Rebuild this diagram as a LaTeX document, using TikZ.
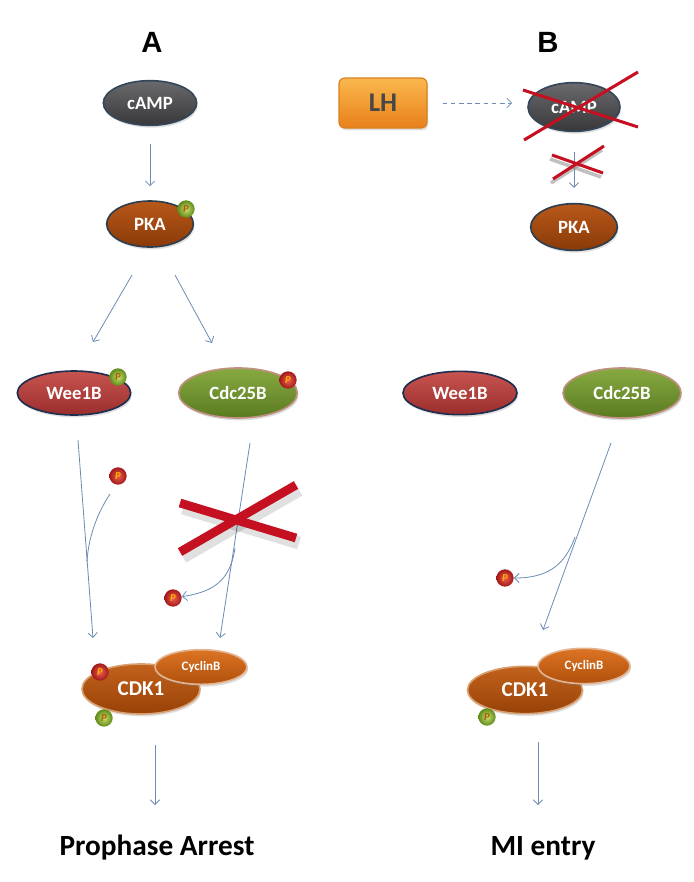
\documentclass[tikz,border=0pt]{standalone}
\usepackage{fontspec}
\setmainfont{Carlito}
\newfontfamily\arialb{Liberation Sans}
\usetikzlibrary{shapes.geometric,arrows.meta,shadows}
\definecolor{campT}{HTML}{6A6A6C}\definecolor{campB}{HTML}{38383A}\definecolor{campD}{HTML}{34465A}
\definecolor{pkaT}{HTML}{B8581A}\definecolor{pkaB}{HTML}{8A3A08}\definecolor{pkaD}{HTML}{2E3E4E}
\definecolor{weeT}{HTML}{C85450}\definecolor{weeB}{HTML}{9A2E2C}\definecolor{weeD}{HTML}{1E2E50}
\definecolor{cdcT}{HTML}{88AA42}\definecolor{cdcB}{HTML}{5A7A20}\definecolor{cdcD}{HTML}{C09080}
\definecolor{cdkT}{HTML}{C2621C}\definecolor{cdkB}{HTML}{984208}\definecolor{cdkD}{HTML}{D8A070}
\definecolor{cycT}{HTML}{DC7424}\definecolor{cycB}{HTML}{B0500C}\definecolor{cycD}{HTML}{E2B492}
\definecolor{lhT}{HTML}{FBB84E}\definecolor{lhB}{HTML}{E8801A}\definecolor{lhD}{HTML}{D88020}
\definecolor{arr}{HTML}{6D8DB5}
\definecolor{xred}{HTML}{C41020}
\definecolor{pgIn}{HTML}{C8E070}\definecolor{pgOut}{HTML}{5E8A18}
\definecolor{prIn}{HTML}{F06050}\definecolor{prOut}{HTML}{A01818}
\begin{document}
\begin{tikzpicture}[x=0.03cm,y=-0.03cm,
  mol/.style={ellipse, draw, line width=1.4pt, text=white, inner sep=0pt,
    font=\bfseries\fontsize{16}{16}\selectfont,
    drop shadow={shadow xshift=1pt, shadow yshift=-2pt, opacity=0.25}},
  campst/.style={mol, top color=campT, bottom color=campB, draw=campD},
  pkast/.style={mol, top color=pkaT, bottom color=pkaB, draw=pkaD},
  weest/.style={mol, top color=weeT, bottom color=weeB, draw=weeD},
  cdcst/.style={mol, top color=cdcT, bottom color=cdcB, draw=cdcD},
  cdkst/.style={mol, top color=cdkT, bottom color=cdkB, draw=cdkD, font=\bfseries\fontsize{18}{18}\selectfont},
  cycst/.style={mol, top color=cycT, bottom color=cycB, draw=cycD, font=\bfseries\fontsize{11}{11}\selectfont},
  pbadge/.style={circle, minimum size=0.52cm, inner sep=0pt, shading=radial,
    font=\bfseries\itshape\fontsize{9}{9}\selectfont},
  pgreen/.style={pbadge, inner color=pgIn, outer color=pgOut, text=orange!70!black},
  pred/.style={pbadge, inner color=prIn, outer color=prOut, text=orange!60!yellow},
  flow/.style={draw=arr, line width=0.7pt, -{Straight Barb[length=4pt,width=8pt]}},
  xbig/.style={draw=xred, line width=7.5pt},
  xthin/.style={draw=xred, line width=2.6pt},
  title/.style={font=\arialb\bfseries\fontsize{25}{25}\selectfont},
  outcome/.style={font=\bfseries\fontsize{25}{25}\selectfont}
]
\useasboundingbox (0,0) rectangle (694,882);

% ---------------- Panel A ----------------
\node[title] (tA) at (152,42) {A};
\node[campst, minimum width=2.8cm, minimum height=1.34cm] (campA) at (150,103) {cAMP};
\node[pkast, minimum width=2.6cm, minimum height=1.38cm] (pkaA) at (150,224) {PKA};
\node[pgreen] (pkaAp) at (186,209) {P};
\draw[flow, shorten <=0.54cm, shorten >=0.42cm] (campA) -- (pkaA);

\node[weest, minimum width=3.4cm, minimum height=1.32cm] (weeA) at (74,393) {Wee1B};
\node[pgreen] (weeAp) at (118,377) {P};
\node[cdcst, minimum width=3.56cm, minimum height=1.5cm] (cdcA) at (238,393) {Cdc25B};
\node[pred] (cdcAp) at (288,380) {P};

\coordinate (pkaAl) at (132,275);
\coordinate (weeAt) at (93,342);
\coordinate (pkaAr) at (175,275);
\coordinate (cdcAt) at (212,343);
\draw[flow] (pkaAl) -- (weeAt);
\draw[flow] (pkaAr) -- (cdcAt);

% CDK1 complex A
\node[cdkst, minimum width=3.54cm, minimum height=1.5cm] (cdkA) at (141,689) {CDK1};
\node[cycst, minimum width=2.76cm, minimum height=1.04cm] (cycA) at (201,667) {CyclinB};
\node[pred] (cdkApr) at (100,672) {P};
\node[pgreen] (cdkApg) at (104,718) {P};

% Wee1B -> CDK1 with incoming phosphate
\coordinate (weeAb) at (78,440);
\coordinate (cdkAl) at (93,638);
\draw[flow] (weeAb) -- (cdkAl);
\node[pred] (pA1) at (118,476) {P};
\coordinate (pA1s) at (110,494);
\coordinate (mergeA) at (87,562);
\draw[draw=arr, line width=0.7pt] (pA1s) .. controls (96,515) and (88,540) .. (mergeA);

% Cdc25B -> CDK1 with released phosphate (blocked)
\coordinate (cdcAb) at (250,443);
\coordinate (cdkAr) at (220,638);
\draw[flow] (cdcAb) -- (cdkAr);
\coordinate (splitA) at (235,548);
\node[pred] (pA2) at (173,598) {P};
\draw[flow] (splitA) .. controls (230,582) and (212,592) .. (pA2);
% big red X with soft shadow
\draw[draw=black, opacity=0.12, line width=11pt] (183,508) -- (299,543);
\draw[draw=black, opacity=0.12, line width=11pt] (183,557) -- (299,490);
\draw[xbig] (180,503) -- (296,538);
\draw[xbig] (180,552) -- (296,485);

\coordinate (cdkAb) at (155,745);
\node[outcome] (outA) at (157,848) {Prophase Arrest};
\draw[flow] (cdkAb) -- (155,805) coordinate (outAt);

% ---------------- Panel B ----------------
\node[title] (tB) at (548,42) {B};
\node[draw=lhD, line width=1pt, rounded corners=5pt, top color=lhT, bottom color=lhB,
  minimum width=2.64cm, minimum height=1.5cm, text=black!72,
  font=\bfseries\fontsize{23}{23}\selectfont,
  drop shadow={shadow xshift=1pt, shadow yshift=-2pt, opacity=0.25}] (lh) at (383,103) {LH};
\node[campst, minimum width=2.76cm, minimum height=1.46cm] (campB) at (574,107) {cAMP};
\draw[flow, dashed, dash pattern=on 4pt off 3pt, shorten <=0.45cm, shorten >=0.45cm] (lh) -- (lh -| campB.west);
% red X over cAMP
\draw[xthin] (523,90) -- (638,127);
\draw[xthin] (524,140) -- (638,72);

\node[pkast, minimum width=2.6cm, minimum height=1.4cm] (pkaB) at (574,227) {PKA};
\draw[flow, shorten <=0.6cm, shorten >=0.45cm] (campB) -- (pkaB);
% small X with shadow
\draw[draw=black!45, line width=3pt, opacity=0.55] (550,159) -- (601,177);
\draw[draw=black!45, line width=3pt, opacity=0.55] (551,183) -- (602,150);
\draw[xthin] (552,155) -- (603,173);
\draw[xthin] (553,179) -- (604,146);

\node[weest, minimum width=3.42cm, minimum height=1.3cm] (weeB) at (460,393) {Wee1B};
\node[cdcst, minimum width=3.54cm, minimum height=1.5cm] (cdcB) at (622,393) {Cdc25B};

% CDK1 complex B
\node[cdkst, minimum width=3.45cm, minimum height=1.42cm] (cdkB) at (525,690) {CDK1};
\node[cycst, minimum width=2.76cm, minimum height=1.06cm] (cycB) at (584,666) {CyclinB};
\node[pgreen] (cdkBpg) at (487,717) {P};

\coordinate (cdcBb) at (611,443);
\coordinate (cdkBt) at (543,630);
\draw[flow] (cdcBb) -- (cdkBt);
\coordinate (splitB) at (575,537);
\node[pred] (pB) at (505,578) {P};
\draw[flow] (splitB) .. controls (565,565) and (548,578) .. (pB);

\coordinate (cdkBb) at (538,742);
\node[outcome] (outB) at (543,848) {MI entry};
\draw[flow] (cdkBb) -- (538,805) coordinate (outBt);
\end{tikzpicture}
\end{document}
